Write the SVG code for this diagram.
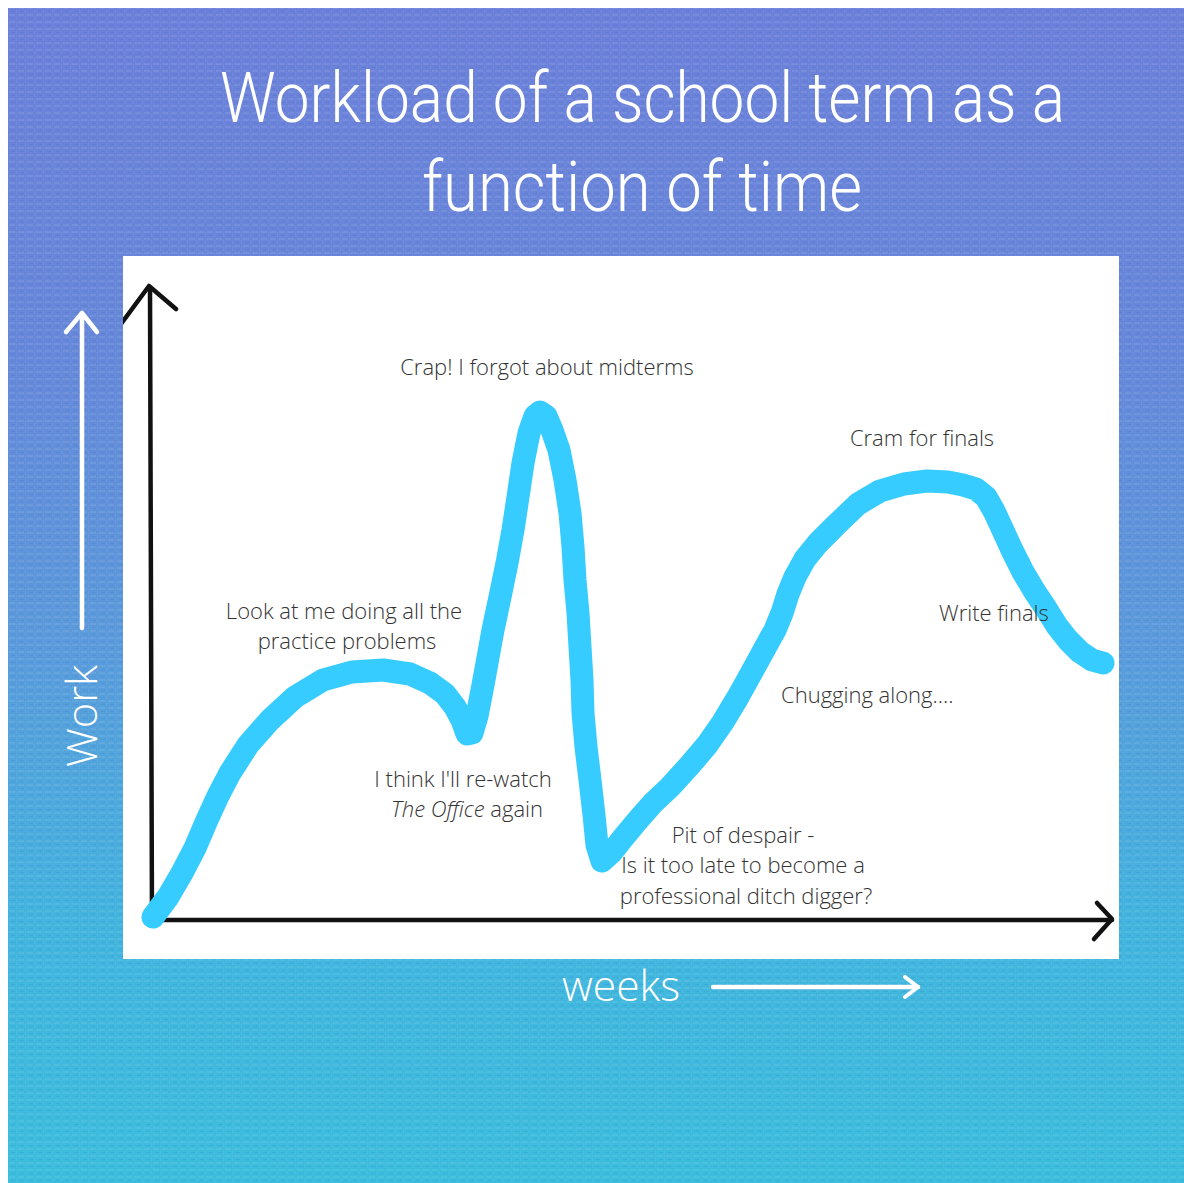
<svg xmlns="http://www.w3.org/2000/svg" width="1184" height="1183" viewBox="0 0 1184 1183">
  <defs>
    <linearGradient id="bg" x1="0" y1="0" x2="0" y2="1">
      <stop offset="0" stop-color="#6c80d9"/>
      <stop offset="0.3" stop-color="#6688d9"/>
      <stop offset="0.55" stop-color="#5a9bdb"/>
      <stop offset="0.78" stop-color="#42b4de"/>
      <stop offset="1" stop-color="#3cbddc"/>
    </linearGradient>
    <pattern id="canvas" width="9" height="7" patternUnits="userSpaceOnUse">
      <rect x="0" y="0" width="6" height="2" fill="#ffffff" opacity="0.08"/>
      <rect x="2" y="4" width="4" height="1" fill="#1d3aa8" opacity="0.10"/>
      <rect x="7" y="1" width="1" height="5" fill="#ffffff" opacity="0.05"/>
    </pattern>
    <clipPath id="chartClip"><rect x="123" y="256" width="996" height="703"/></clipPath>
    <marker id="whiteHead" viewBox="0 0 20 24" refX="17" refY="12" markerWidth="20" markerHeight="24" markerUnits="userSpaceOnUse" orient="auto">
      <path d="M4,2 L17,12 L4,22" fill="none" stroke="#ffffff" stroke-width="4" stroke-linecap="round" stroke-linejoin="round"/>
    </marker>
    <style>
      .title { font-family: "Roboto", "Liberation Sans", sans-serif; font-weight: 300; font-size: 70px; fill: #ffffff; }
      .axislabel { font-family: "Open Sans", "Liberation Sans", sans-serif; font-weight: 300; font-size: 42px; fill: #ffffff; }
      .note { font-family: "Open Sans", "Liberation Sans", sans-serif; font-weight: 300; font-size: 22px; fill: #333333; }
      .axis { fill: none; stroke: #111111; stroke-width: 4.5; stroke-linecap: round; stroke-linejoin: round; }
      .curve { fill: none; stroke: #36ccff; stroke-width: 23; stroke-linecap: round; stroke-linejoin: round; }
      .warrow { fill: none; stroke: #ffffff; stroke-width: 4.5; stroke-linecap: round; stroke-linejoin: round; }
    </style>
  </defs>

  <rect x="0" y="0" width="1184" height="1183" fill="#ffffff"/>
  <rect x="8" y="8" width="1176" height="1175" fill="url(#bg)"/>
  <rect x="8" y="8" width="1176" height="1175" fill="url(#canvas)"/>

  <g id="title">
    <text class="title" x="220" y="122" textLength="845" lengthAdjust="spacingAndGlyphs">Workload of a school term as a</text>
    <text class="title" x="422" y="211" textLength="440" lengthAdjust="spacingAndGlyphs">function of time</text>
  </g>

  <g id="chart-area">
    <rect x="123" y="256" width="996" height="703" fill="#ffffff"/>
  </g>

  <g id="connectors">
    <g clip-path="url(#chartClip)">
      <path class="axis" d="M152,925 L150,288"/>
      <path class="axis" d="M118,328 L149,286 L176,309"/>
      <path class="axis" d="M152,920 L1112,920"/>
      <path class="axis" d="M1097,903 L1112,919 L1094,939"/>
    </g>
    <path class="warrow" d="M82,628 L82,314"/>
    <path class="warrow" d="M66,332 L82,313 L97,332"/>
    <path class="warrow" d="M713,987 L918,987" marker-end="url(#whiteHead)"/>
    <path id="workload-curve" class="curve" d="M153,917 L168,897 L182,873 L195,848 L207,820 L218,796 L230,773 L248,745 L270,720 L295,697 L323,680 L352,672 L383,670 L410,674 L430,683 L445,694 L455,707 L462,720 L467,734 L472,733 L477,716 L483,685 L487,663 L493,630 L500,597 L507,563 L513,530 L518,497 L523,463 L529,433 L535,416 L540,412 L546,416 L552,430 L559,450 L565,480 L570,513 L573,547 L575,580 L578,613 L580,647 L582,680 L583,713 L586,747 L590,780 L594,815 L597,845 L602,861 L612,852 L623,838 L638,820 L653,803 L670,787 L690,765 L707,745 L723,722 L738,697 L753,670 L765,648 L775,630 L782,613 L788,594 L795,577 L805,559 L818,543 L835,526 L858,504 L880,491 L904,484 L927,481 L948,482 L963,485 L976,489 L986,497 L994,511 L1001,526 L1012,550 L1023,572 L1035,592 L1047,610 L1057,626 L1068,640 L1080,652 L1092,660 L1103,663"/>
  </g>

  <g id="label-work">
    <text class="axislabel" transform="translate(97,767) rotate(-90)" textLength="102" lengthAdjust="spacingAndGlyphs">Work</text>
  </g>
  <g id="label-weeks">
    <text class="axislabel" x="562" y="1001" textLength="118" lengthAdjust="spacingAndGlyphs">weeks</text>
  </g>

  <g id="note-midterms">
    <text class="note" x="547" y="375" text-anchor="middle">Crap! I forgot about midterms</text>
  </g>
  <g id="note-cram">
    <text class="note" x="922" y="446" text-anchor="middle">Cram for finals</text>
  </g>
  <g id="note-practice">
    <text class="note" x="344" y="619" text-anchor="middle">Look at me doing all the</text>
    <text class="note" x="347" y="649" text-anchor="middle">practice problems</text>
  </g>
  <g id="note-write">
    <text class="note" x="939" y="621">Write finals</text>
  </g>
  <g id="note-chugging">
    <text class="note" x="781" y="703">Chugging along....</text>
  </g>
  <g id="note-office">
    <text class="note" x="463" y="787" text-anchor="middle">I think I'll re-watch</text>
    <text class="note" x="467" y="817" text-anchor="middle"><tspan font-style="italic">The Office</tspan> again</text>
  </g>
  <g id="note-pit">
    <text class="note" x="743" y="843" text-anchor="middle">Pit of despair -</text>
    <text class="note" x="743" y="873" text-anchor="middle">Is it too late to become a</text>
    <text class="note" x="746" y="904" text-anchor="middle">professional ditch digger?</text>
  </g>
</svg>
